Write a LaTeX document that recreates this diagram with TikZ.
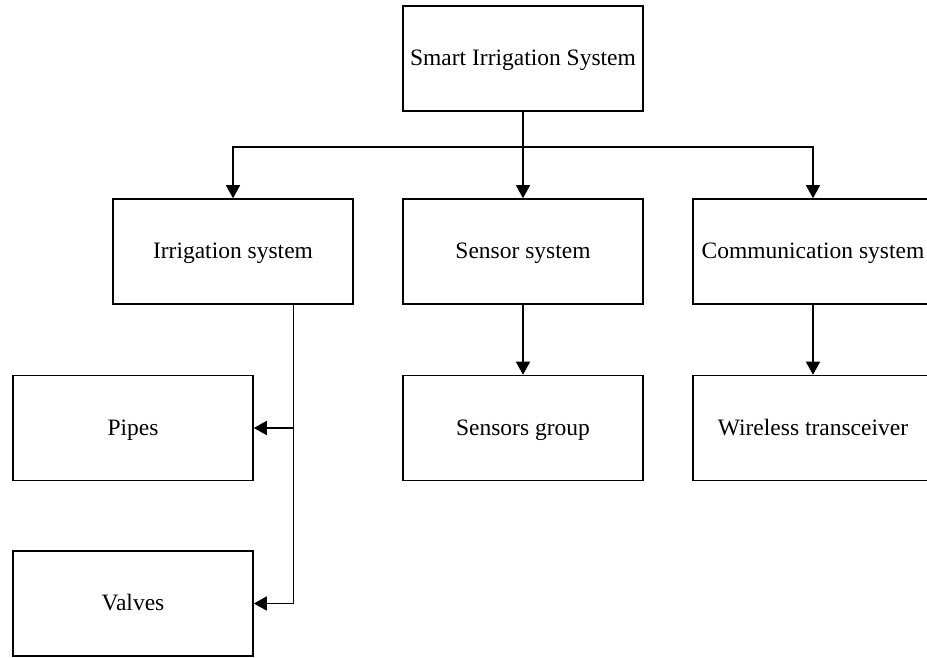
\documentclass[tikz,border=0pt]{standalone}
\usepackage{fontspec}
\setmainfont{Liberation Serif}
\usetikzlibrary{arrows.meta,calc}
\begin{document}
\begin{tikzpicture}[x=1pt,y=-1pt,
  box/.style={draw, line width=1.6pt, minimum width=240pt, minimum height=105pt, inner sep=0pt, text height=14pt, text depth=0pt, font=\fontsize{23.5}{28}\selectfont, anchor=center},
  conn/.style={line width=1.6pt},
  arr/.style={conn, -{Triangle[length=13pt,width=14pt]}}]
\useasboundingbox (0,0) rectangle (927,657);
\clip (0,0) rectangle (927,657);
\node[box] (top) at (523,58.5) {Smart Irrigation System};
\node[box] (irr) at (233,251.5) {Irrigation system};
\node[box] (sens) at (523,251.5) {Sensor system};
\node[box] (comm) at (813,251.5) {Communication system};
\node[box] (pipes) at (133,428) {Pipes};
\node[box] (sg) at (523,428) {Sensors group};
\node[box] (wt) at (813,428) {Wireless transceiver};
\node[box] (valves) at (133,603.5) {Valves};
\coordinate (j) at ($(top.south)+(0,35)$);
\coordinate (b) at ($(irr.south east)!0.25!(irr.south west)$);
\draw[arr] (top.south) -- (sens.north);
\draw[arr] (j) -| (irr.north);
\draw[arr] (j) -| (comm.north);
\draw[arr] (sens.south) -- (sg.north);
\draw[arr] (comm.south) -- (wt.north);
\draw[arr] (b) |- (valves.east);
\draw[arr] (b |- pipes.east) -- (pipes.east);
\end{tikzpicture}
\end{document}
